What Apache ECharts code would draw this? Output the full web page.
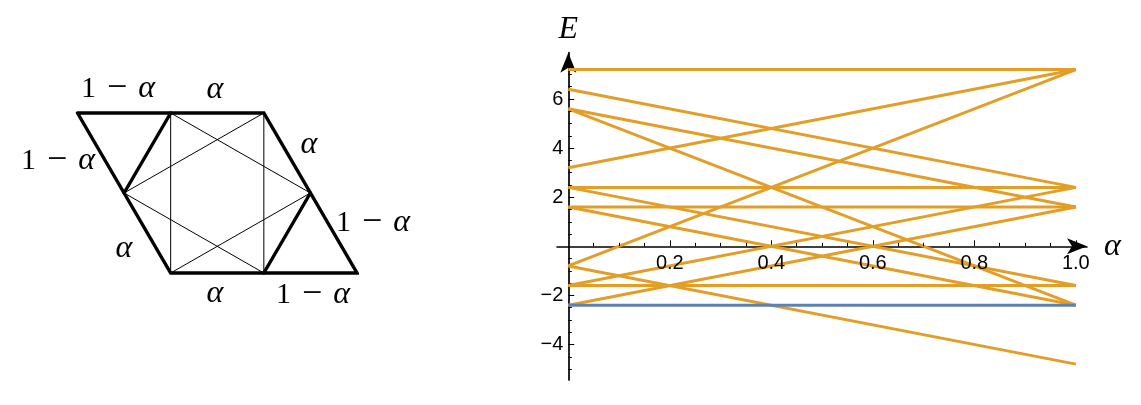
<!DOCTYPE html>
<html>
<head>
<meta charset="utf-8">
<style>html,body{margin:0;padding:0;background:#fff}#c{width:1141px;height:405px}</style>
<script src="https://cdn.jsdelivr.net/npm/echarts@6/dist/echarts.min.js"></script>
</head>
<body>
<div id="c"></div>
<script>
// Spectrum: energy of each level at alpha = 0 and alpha = 1
const alphaEnds = [0, 1];
const levelsAtZero = [7.2, 6.4, 5.6, 5.6, 3.2, 2.4, 2.4, 1.6, 1.6, -0.8, -0.8, -1.6, -1.6, -2.4];
const levelsAtOne  = [7.2, 2.4, 1.6, -2.4, 7.2, 2.4, -1.6, 1.6, -2.4, 7.2, -4.8, 2.4, -1.6, 1.6];
const groundAtZero = -2.4;
const groundAtOne = -2.4;

// Axis ticks
const xMajorTicks = [0.2, 0.4, 0.6, 0.8, 1.0];
const xMinorTicks = [0.05,0.1,0.15,0.25,0.3,0.35,0.45,0.5,0.55,0.65,0.7,0.75,0.85,0.9,0.95];
const yMajorTicks = [-4, -2, 2, 4, 6];
const yMinorTicks = [-5,-4.5,-3.5,-3,-2.5,-1.5,-1,-0.5,0.5,1,1.5,2.5,3,3.5,4.5,5,5.5,6.5,7];

// Lattice diagram, vertices in lattice units (column, row)
const bondsThick = [
  [[0,2],[4,2],[6,0],[2,0],[0,2]],
  [[2,2],[1,1]],
  [[5,1],[4,0]]
];
const bondsThin = [
  [[2,2],[2,0]], [[4,2],[4,0]],
  [[2,2],[5,1]], [[1,1],[4,2]],
  [[1,1],[4,0]], [[2,0],[5,1]]
];

const ORANGE = '#E29E26', BLUE = '#5E81B5', SERIF = '"Liberation Serif"';

const levelSeries = levelsAtZero.map((v, i) => ({
  type: 'line', xAxisIndex: 0, yAxisIndex: 0, showSymbol: false, silent: true, z: 3,
  lineStyle: {color: ORANGE, width: 3, cap: 'butt'},
  data: [[alphaEnds[0], v], [alphaEnds[1], levelsAtOne[i]]]
}));
const groundSeries = {
  type: 'line', xAxisIndex: 0, yAxisIndex: 0, showSymbol: false, silent: true, z: 4,
  lineStyle: {color: BLUE, width: 3, cap: 'butt'},
  data: [[alphaEnds[0], groundAtZero], [alphaEnds[1], groundAtOne]]
};
const latticeSeries = (pts, w, z) => ({
  type: 'line', xAxisIndex: 2, yAxisIndex: 2, showSymbol: false, silent: true, z: z, clip: false,
  lineStyle: {color: '#000', width: w, join: 'miter', cap: 'round'},
  data: pts
});

const xCommon = {type: 'value', gridIndex: 0, min: -0.0223, max: 1.022, position: 'bottom', splitLine: {show: false}};
const yCommon = {type: 'value', gridIndex: 0, min: -5.446, max: 7.886, position: 'left', splitLine: {show: false}};
const axisStroke = {color: '#000', width: 1.5};

const mathLabel = (text, x, y) => ({
  type: 'text', silent: true, x: x, y: y,
  style: {
    text: text, align: 'center', verticalAlign: 'middle', fill: '#000',
    rich: {
      r: {fontFamily: SERIF, fontSize: 30, fill: '#000'},
      m: {fontFamily: SERIF, fontSize: 36, fill: '#000'},
      s: {fontFamily: SERIF, fontSize: 22, fill: '#000'},
      i: {fontFamily: SERIF, fontSize: 32, fontStyle: 'italic', fill: '#000'}
    }
  }
});
const A = '{i|α}', M = '{r|1}{s|\u2002}{m|−}{s|\u2002}{i|α}';

const option = {
  animation: false,
  backgroundColor: '#fff',
  grid: [
    {left: 557, top: 52.7, width: 530, height: 327.3},
    {left: 77.5, top: 113, width: 279.5, height: 160}
  ],
  xAxis: [
    Object.assign({}, xCommon, {
      name: 'α', nameLocation: 'end', nameGap: 17,
      nameTextStyle: {fontFamily: SERIF, fontStyle: 'italic', fontSize: 32, color: '#000'},
      axisLine: {show: true, onZero: true, lineStyle: axisStroke, symbol: ['none', 'arrow'], symbolSize: [12, 20]},
      axisTick: {show: true, inside: true, length: 6, lineStyle: {color: '#000', width: 1}, customValues: xMajorTicks},
      axisLabel: {show: false}
    }),
    Object.assign({}, xCommon, {
      z: 6,
      axisLine: {show: false, onZero: true},
      axisTick: {show: true, inside: true, length: 3.5, lineStyle: {color: '#000', width: 1}, customValues: xMinorTicks},
      axisLabel: {show: true, margin: -126.5, fontFamily: 'Liberation Sans', fontSize: 20, color: '#000', customValues: xMajorTicks, formatter: v => v.toFixed(1), hideOverlap: false}
    }),
    {type: 'value', gridIndex: 1, min: 0, max: 6, show: false, splitLine: {show: false}}
  ],
  yAxis: [
    Object.assign({}, yCommon, {
      name: 'E', nameLocation: 'end', nameGap: 7,
      nameTextStyle: {fontFamily: SERIF, fontStyle: 'italic', fontSize: 32, color: '#000'},
      axisLine: {show: true, onZero: true, lineStyle: {color: '#000', width: 1.7}, symbol: ['none', 'arrow'], symbolSize: [12, 20]},
      axisTick: {show: true, inside: true, length: 6, lineStyle: {color: '#000', width: 1}, customValues: yMajorTicks},
      axisLabel: {show: true, margin: -6.3, padding: [2, 0, 0, 0], fontFamily: 'Liberation Sans', fontSize: 20, color: '#000', customValues: yMajorTicks, formatter: v => String(v).replace('-', '−'), hideOverlap: false}
    }),
    Object.assign({}, yCommon, {
      axisLine: {show: false, onZero: true},
      axisTick: {show: true, inside: true, length: 3.5, lineStyle: {color: '#000', width: 1}, customValues: yMinorTicks},
      axisLabel: {show: false}
    }),
    {type: 'value', gridIndex: 1, min: 0, max: 2, show: false, splitLine: {show: false}}
  ],
  graphic: [
    mathLabel(M, 118, 89), mathLabel(A, 215, 90),
    mathLabel(M, 58, 161), mathLabel(A, 309, 145),
    mathLabel(M, 373, 223), mathLabel(A, 124, 249),
    mathLabel(A, 215, 294), mathLabel(M, 313, 295)
  ],
  series: [
    ...levelSeries, groundSeries,
    ...bondsThin.map(b => latticeSeries(b, 1, 2)),
    ...bondsThick.map(b => latticeSeries(b, 3.4, 3))
  ]
};
echarts.init(document.getElementById('c'), null, {renderer: 'canvas'}).setOption(option);
</script>
</body>
</html>
